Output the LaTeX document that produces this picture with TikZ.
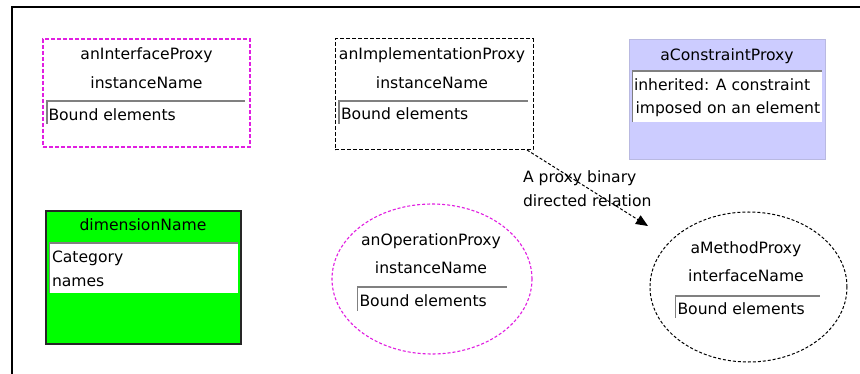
\documentclass[tikz,border=0pt]{standalone}
\usepackage{fontspec}
\setmainfont{DejaVu Sans}
\usetikzlibrary{arrows.meta,shapes.geometric}
\definecolor{proxymagenta}{RGB}{225,30,225}
\definecolor{constraintfill}{RGB}{204,204,255}
\definecolor{constraintedge}{RGB}{185,185,225}
\definecolor{dimgreen}{RGB}{0,255,0}
\definecolor{compgray}{RGB}{128,128,128}
\begin{document}
\begin{tikzpicture}[x=1pt,y=-1pt,
  every node/.style={font=\fontsize{15.6}{18}\selectfont, inner sep=0pt, outer sep=0pt},
  shapebox/.style={rectangle, anchor=north west},
  ifacebox/.style={shapebox, draw=proxymagenta, line width=1.1pt, dash pattern=on 4pt off 2pt},
  implbox/.style={shapebox, draw=black, line width=1pt, dash pattern=on 4pt off 2pt},
  constraintbox/.style={shapebox, fill=constraintfill, draw=constraintedge, line width=0.8pt},
  dimbox/.style={shapebox, fill=dimgreen, draw=black!85, line width=1.5pt},
  opellipse/.style={ellipse, draw=proxymagenta, line width=1.1pt, dash pattern=on 3pt off 2pt},
  methellipse/.style={ellipse, draw=black, line width=1pt, dash pattern=on 3pt off 2pt},
  compline/.style={draw=compgray, line width=2pt},
  compedge/.style={draw=compgray, line width=1.4pt},
  compfill/.style={fill=white},
  relation/.style={draw=black, line width=1pt, dash pattern=on 3pt off 2pt,
    -{Triangle[length=12pt,width=10pt]}},
  lbl/.style={anchor=base},
  lblw/.style={anchor=base west},
]
\useasboundingbox (0,0) rectangle (860,374);
\fill[white] (0,0) rectangle (860,374);

% window frame (top and left edges)
\draw[line width=2pt] (12,374) -- (12,7) -- (860,7);

% ---- anInterfaceProxy ----
\node[ifacebox, minimum width=207pt, minimum height=108pt] (iface) at (43,39) {};
\node[lbl] (ifaceTitle) at (146.5,60) {anInterfaceProxy};
\node[lbl] (ifaceName) at (146.5,89) {instanceName};
\draw[compline] (46,101) -- (245,101);
\draw[compedge] (47,101) -- (47,124);
\node[lblw] (ifaceBound) at (48.5,121) {Bound elements};

% ---- anImplementationProxy ----
\node[implbox, minimum width=198pt, minimum height=111pt] (impl) at (335,39) {};
\node[lbl] (implTitle) at (432,60) {anImplementationProxy};
\node[lbl] (implName) at (432,89) {instanceName};
\draw[compline] (338,101) -- (528,101);
\draw[compedge] (339,101) -- (339,124);
\node[lblw] (implBound) at (341,120) {Bound elements};

% ---- aConstraintProxy ----
\node[constraintbox, minimum width=196pt, minimum height=120pt] (cons) at (629,39) {};
\node[lbl] (consTitle) at (727,61) {aConstraintProxy};
\fill[compfill] (632,71) rectangle (822,122);
\draw[compline] (632,71.5) -- (822,71.5);
\draw[compedge] (632.5,71) -- (632.5,122);
\node[lblw] (consLineA) at (634,91) {inherited: A constraint};
\node[lblw] (consLineB) at (635.5,114) {imposed on an element};

% ---- dimensionName ----
\node[dimbox, minimum width=195pt, minimum height=133pt] (dim) at (46,211) {};
\node[lbl] (dimTitle) at (143,231) {dimensionName};
\fill[compfill] (49,243) rectangle (238,293);
\draw[compline] (49,243.5) -- (238,243.5);
\draw[compedge] (49.5,243) -- (49.5,293);
\node[lblw] (dimCat) at (52,263) {Category};
\node[lblw] (dimNames) at (52,287) {names};

% ---- anOperationProxy ----
\node[opellipse, minimum width=200pt, minimum height=150pt] (op) at (432,279) {};
\node[lbl] (opTitle) at (431,246) {anOperationProxy};
\node[lbl] (opName) at (431,274) {instanceName};
\draw[compline] (357,287) -- (507,287);
\draw[compedge] (357.5,287) -- (357.5,311);
\node[lblw] (opBound) at (359.5,307) {Bound elements};

% ---- aMethodProxy ----
\node[methellipse, minimum width=197pt, minimum height=150pt] (meth) at (748.5,287) {};
\node[lbl] (methTitle) at (746,254) {aMethodProxy};
\node[lbl] (methName) at (746,282) {interfaceName};
\draw[compline] (675,296) -- (820,296);
\draw[compedge] (675.5,296) -- (675.5,318);
\node[lblw] (methBound) at (677.5,315) {Bound elements};

% ---- directed relation between the proxies ----
\coordinate (relTip) at (648,226);
\draw[relation] ([xshift=-6pt]impl.south east) -- (relTip);
\node[lblw] (relLabelA) at (523,183) {A proxy binary};
\node[lblw] (relLabelB) at (523,207) {directed relation};
\end{tikzpicture}
\end{document}
